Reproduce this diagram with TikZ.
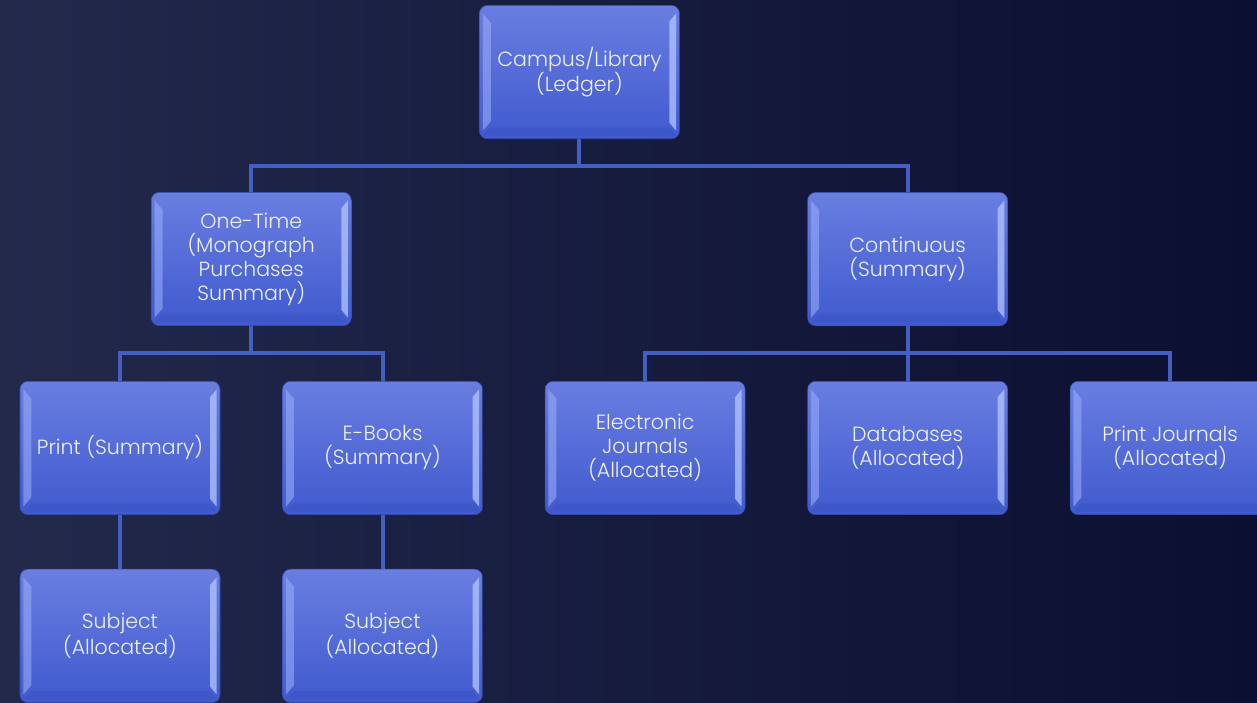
\documentclass[tikz,border=0pt]{standalone}
\usepackage{fontspec}
\setmainfont{Poppins}[UprightFont=* Light]
\usetikzlibrary{positioning}
\usetikzlibrary{calc}
\definecolor{bgleft}{RGB}{34,41,75}
\definecolor{bgright}{RGB}{11,15,50}
\definecolor{linkblue}{RGB}{68,95,192}
\definecolor{boxtop}{RGB}{106,126,225}
\definecolor{boxbot}{RGB}{64,90,206}
\definecolor{bevelleft}{RGB}{150,170,245}
\definecolor{bevelright}{RGB}{180,198,252}
\definecolor{beveldark}{RGB}{58,82,194}
\definecolor{txt}{RGB}{238,240,250}
\newcommand\fundbevel{%
	\fill[bevelleft, fill opacity=0.6, sharp corners] ($(path picture bounding box.north west)+(2.5pt,-6pt)$) -- ++(6pt,-7pt)
		-- ($(path picture bounding box.south west)+(8.5pt,13pt)$) -- ++(-6pt,-7pt) -- cycle;
	\fill[bevelright, fill opacity=0.75, sharp corners] ($(path picture bounding box.north east)+(-2.5pt,-6pt)$) -- ++(-5pt,-6pt)
		-- ($(path picture bounding box.south east)+(-7.5pt,12pt)$) -- ++(5pt,-6pt) -- cycle;
	\fill[beveldark, fill opacity=0.5, sharp corners] ($(path picture bounding box.south west)+(2.5pt,2.5pt)$) -- ++(6pt,6pt)
		-- ($(path picture bounding box.south east)+(-7.5pt,8.5pt)$) -- ++(5pt,-6pt) -- cycle;
}
\tikzset{
	every node/.style={align=center, text=txt, font=\fontsize{15.4}{18}\selectfont},
	fund/.style={rounded corners=6pt, minimum width=150pt, minimum height=100pt, inner sep=2pt,
		top color=boxtop, bottom color=boxbot, draw=boxbot!85!black, line width=0.4pt,
		path picture={\fundbevel}},
	link/.style={draw=linkblue, line width=3pt}
}

\begin{document}
\begin{tikzpicture}[x=0.75pt, y=-0.75pt, node distance=41.25pt and 46.5pt]
	% Background
	\shade[left color=bgleft, right color=bgright] (0,0) rectangle (1257,703);
	\useasboundingbox (0,0) rectangle (1257,703);

	% Allocated / summary funds
	\node[fund] (print) at (120,448) {Print (Summary)};
	\node[fund, right = of print] (ebooks) {E-Books\\(Summary)};
	\node[fund, right = of ebooks] (ejournals) {Electronic\\Journals\\(Allocated)};
	\node[fund, right = of ejournals] (databases) {Databases\\(Allocated)};
	\node[fund, right = of databases] (pjournals) {Print Journals\\(Allocated)};

	\node[fund, below = 40.5pt of print] (subjprint) {Subject\\(Allocated)};
	\node[fund, below = 40.5pt of ebooks] (subjebooks) {Subject\\(Allocated)};

	\node[fund, above = of databases] (continuous) {Continuous\\(Summary)};
	\node[fund] (onetime) at ($(print)!0.5!(ebooks)+(0,-189)$) {One-Time\\(Monograph\\Purchases\\Summary)};
	\node[fund] (campus) at ($(onetime)!0.5!(continuous)+(0,-187)$) {Campus/Library\\(Ledger)};

	% Connectors
	\draw[link] (campus.south) -- ++(0,27) -| (onetime.north);
	\draw[link] (campus.south) -- ++(0,27) -| (continuous.north);
	\draw[link] (onetime.south) -- ++(0,27) -| (print.north);
	\draw[link] (onetime.south) -- ++(0,27) -| (ebooks.north);
	\draw[link] (continuous.south) -- ++(0,27) -| (ejournals.north);
	\draw[link] (continuous.south) -- ++(0,27) -| (pjournals.north);
	\draw[link] (continuous) -- (databases);
	\draw[link] (print) -- (subjprint);
	\draw[link] (ebooks) -- (subjebooks);
\end{tikzpicture}
\end{document}
